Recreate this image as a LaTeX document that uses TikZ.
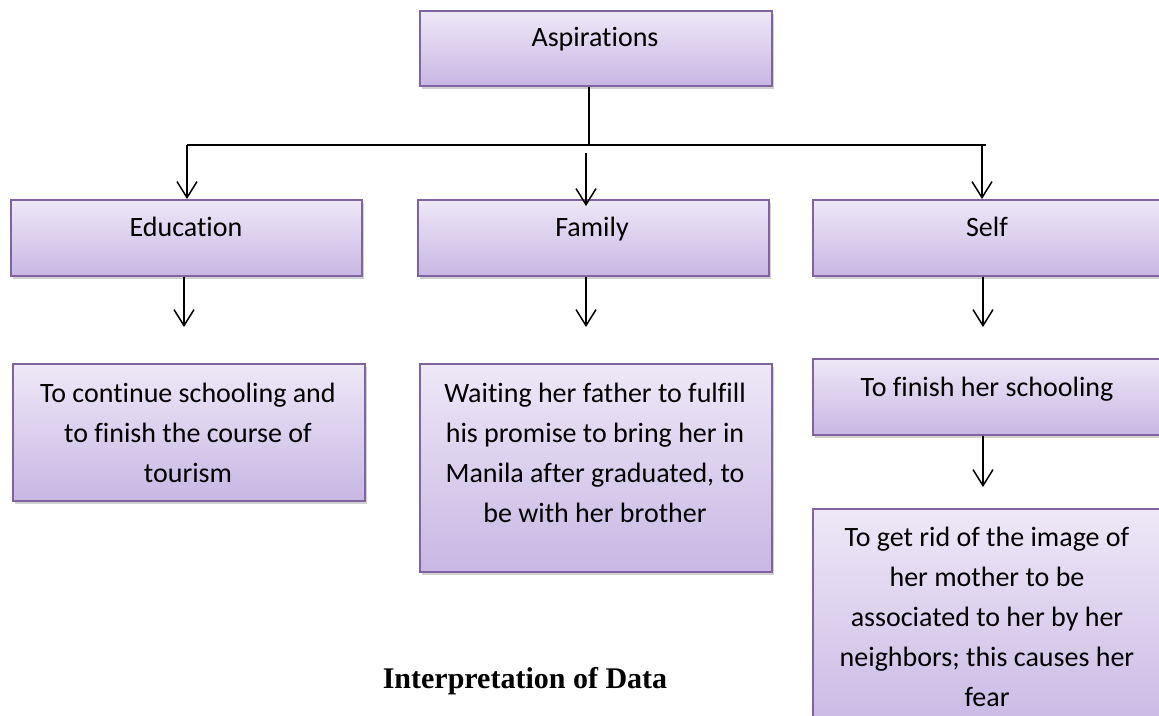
\documentclass[tikz,border=0pt]{standalone}
\usepackage{fontspec}
\setmainfont{Carlito}[Ligatures=NoCommon]
\newfontfamily\titlefont{Liberation Serif}
\usetikzlibrary{arrows.meta,shadows}
\definecolor{boxtop}{RGB}{238,232,247}
\definecolor{boxbot}{RGB}{200,183,228}
\definecolor{boxline}{RGB}{128,100,162}
\tikzset{
  pbox/.style={draw=boxline, line width=1.5pt, top color=boxtop, bottom color=boxbot,
    drop shadow={shadow xshift=2pt, shadow yshift=-3pt, fill=black!45, opacity=0.4},
    inner sep=0pt},
  btext/.style={anchor=north, inner sep=0pt, align=center, font=\fontsize{28}{40}\selectfont},
  conn/.style={line width=1.6pt, black},
  arr/.style={conn, -{Straight Barb[length=16pt, width=20pt, line width=1.5pt]}}
}
\begin{document}
\begin{tikzpicture}[x=1pt, y=-1pt]
\useasboundingbox (0,0) rectangle (1159,715);
% boxes
\node[pbox, minimum width=352pt, minimum height=75pt, anchor=north west] (asp) at (419,10) {};
\node[pbox, minimum width=351pt, minimum height=76pt, anchor=north west] (edu) at (10,199) {};
\node[pbox, minimum width=351pt, minimum height=76pt, anchor=north west] (fam) at (417,199) {};
\node[pbox, minimum width=350pt, minimum height=76pt, anchor=north west] (slf) at (812,199) {};
\node[pbox, minimum width=352pt, minimum height=137pt, anchor=north west] (edr) at (12,363) {};
\node[pbox, minimum width=352pt, minimum height=208pt, anchor=north west] (famr) at (419,363) {};
\node[pbox, minimum width=350pt, minimum height=76pt, anchor=north west] (slfr) at (812,358) {};
\node[pbox, minimum width=350pt, minimum height=230pt, anchor=north west] (slfr2) at (812,508) {};
% texts
\node[btext] (asp-t) at (595,18.5) {\strut Aspirations};
\node[btext] (edu-t) at (186,208.5) {\strut Education};
\node[btext] (fam-t) at (592,208.5) {\strut Family};
\node[btext] (slf-t) at (987,208.5) {\strut Self};
\node[btext] (edr-t) at (188,374.5) {\strut To continue schooling and\\to finish the course of\\tourism};
\node[btext] (famr-t) at (595,374.5) {\strut Waiting her father to fulfill\\his promise to bring her in\\Manila after graduated, to\\be with her brother};
\node[btext] (slfr-t) at (987,368.5) {\strut To finish her schooling};
\node[btext] (slfr2-t) at (987,518.5) {\strut To get rid of the image of\\her mother to be\\associated to her by her\\neighbors; this causes her\\fear};
\node[anchor=base, inner sep=0pt, font=\titlefont\bfseries\fontsize{30}{36}\selectfont] (title) at (525,688) {Interpretation of Data};
% connectors
\coordinate (jL) at (187,145);
\coordinate (jM) at (589,145);
\coordinate (jR) at (986,145);
\coordinate (mA) at (586,153);
\coordinate (mB) at (586,206);
\coordinate (rA) at (982,145);
\draw[conn] (jM |- asp.south) -- (jM);
\draw[conn] (jL) -- (jR);
\draw[arr] (jL) -- (jL |- edu.north);
\draw[arr] (mA) -- (mB);
\draw[arr] (rA) -- (rA |- slf.north);
\coordinate (eA) at (184,327);
\coordinate (fA) at (586,327);
\coordinate (sA) at (983,327);
\coordinate (sB) at (983,487);
\draw[arr] (eA |- edu.south) -- (eA);
\draw[arr] (fA |- fam.south) -- (fA);
\draw[arr] (sA |- slf.south) -- (sA);
\draw[arr] (sB |- slfr.south) -- (sB);
\end{tikzpicture}
\end{document}
